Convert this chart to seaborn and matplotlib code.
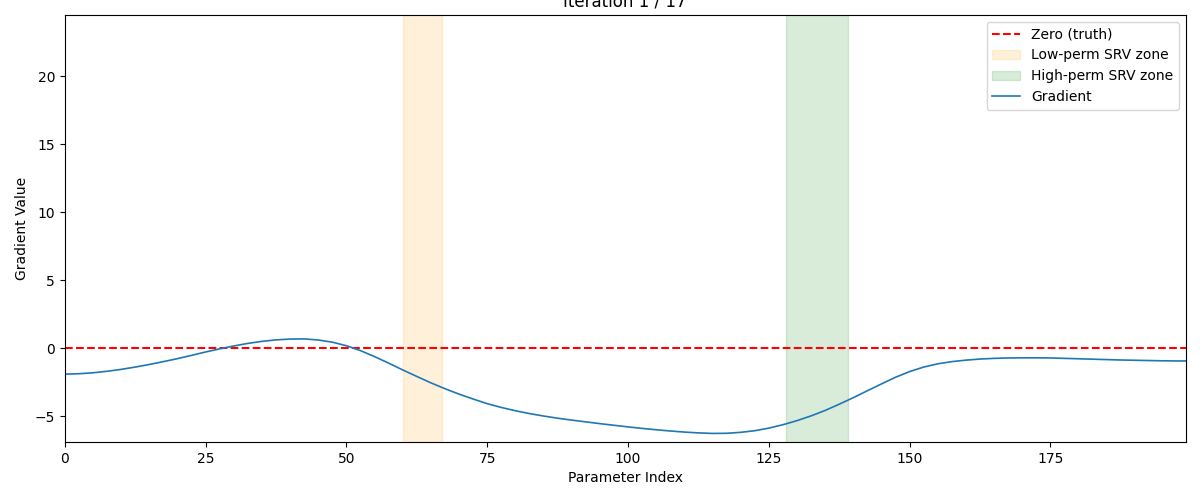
import matplotlib
matplotlib.use("Agg")
from matplotlib import pyplot as plt
import seaborn as sns
import pandas as pd

# parameter index and gradient values
param_index = [0, 2.5, 5, 7.5, 10, 12.5, 15, 17.5, 20, 22.5, 25, 27.5, 30, 32.5,
               35, 37.5, 40, 42.5, 45, 47.5, 50, 52.5, 55, 57.5, 60, 62.5, 65,
               67.5, 70, 72.5, 75, 77.5, 80, 82.5, 85, 87.5, 90, 92.5, 95, 97.5,
               100, 102.5, 105, 107.5, 110, 112.5, 115, 117.5, 120, 122.5, 125,
               127.5, 130, 132.5, 135, 137.5, 140, 142.5, 145, 147.5, 150,
               152.5, 155, 157.5, 160, 162.5, 165, 167.5, 170, 172.5, 175,
               177.5, 180, 182.5, 185, 187.5, 190, 192.5, 195, 197.5, 199]
gradient = [-1.91, -1.88, -1.81, -1.70, -1.56, -1.39, -1.20, -0.99, -0.77, -0.53,
            -0.28, -0.05, 0.16, 0.35, 0.50, 0.61, 0.67, 0.68, 0.60, 0.44,
            0.18, -0.18, -0.62, -1.10, -1.60, -2.08, -2.55, -2.98, -3.38, -3.74,
            -4.08, -4.36, -4.60, -4.81, -4.99, -5.15, -5.29, -5.42, -5.55, -5.67,
            -5.79, -5.90, -6.00, -6.09, -6.17, -6.23, -6.27, -6.26, -6.19, -6.07,
            -5.88, -5.63, -5.33, -4.98, -4.58, -4.12, -3.64, -3.13, -2.63, -2.14,
            -1.72, -1.39, -1.15, -0.99, -0.88, -0.80, -0.75, -0.72, -0.71, -0.71,
            -0.72, -0.75, -0.78, -0.81, -0.84, -0.87, -0.89, -0.91, -0.93, -0.94,
            -0.94]

low_zone = (60, 67)
high_zone = (128, 139)
iteration, n_iter = 1, 17

df = pd.DataFrame({"idx": param_index, "grad": gradient})

fig, ax = plt.subplots(figsize=(12, 5), dpi=100)
fig.subplots_adjust(left=0.054, right=0.988, top=0.97, bottom=0.116)

ax.axhline(0, color="red", linestyle="--", label="Zero (truth)")
ax.axvspan(*low_zone, color="orange", alpha=0.15, label="Low-perm SRV zone")
ax.axvspan(*high_zone, color="green", alpha=0.15, label="High-perm SRV zone")
sns.lineplot(data=df, x="idx", y="grad", ax=ax, color="#1f77b4", linewidth=1.2, label="Gradient")

ax.set_xlim(0, 199)
ax.set_ylim(-6.9, 24.5)
ax.set_xlabel("Parameter Index")
ax.set_ylabel("Gradient Value")
ax.set_title(f"Iteration {iteration} / {n_iter}")
ax.legend(loc="upper right")

fig.savefig("out.png")
